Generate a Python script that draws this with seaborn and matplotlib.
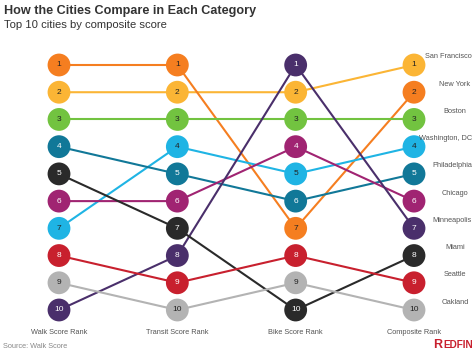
import matplotlib
matplotlib.use("Agg")
import matplotlib.pyplot as plt
import seaborn as sns
import pandas as pd

cities = ["San Francisco", "New York", "Boston", "Washington, DC", "Philadelphia",
          "Chicago", "Minneapolis", "Miami", "Seattle", "Oakland"]
walk_rank = [2, 1, 3, 7, 4, 6, 10, 5, 8, 9]
transit_rank = [2, 1, 3, 4, 5, 6, 8, 7, 9, 10]
bike_rank = [2, 7, 3, 5, 6, 4, 1, 10, 8, 9]
composite_rank = [1, 2, 3, 4, 5, 6, 7, 8, 9, 10]
categories = ["Walk Score Rank", "Transit Score Rank", "Bike Score Rank", "Composite Rank"]

colors = ["#FBB535", "#F57E20", "#72C340", "#1FB4E4", "#117898",
          "#A02472", "#4A2F6B", "#2A2A2A", "#C8202E", "#B3B3B3"]
dark_text = {"#FBB535", "#F57E20", "#72C340", "#1FB4E4", "#B3B3B3"}
palette = dict(zip(cities, colors))

rows = []
for i, c in enumerate(cities):
    for j, ranks in enumerate([walk_rank, transit_rank, bike_rank, composite_rank]):
        rows.append({"city": c, "col": j, "rank": ranks[i]})
df = pd.DataFrame(rows)

sns.set_style("white")
plt.rcParams["font.family"] = ["Liberation Sans", "DejaVu Sans"]

fig = plt.figure(figsize=(4.74, 3.53), dpi=100)
ax = fig.add_axes([0, 0, 1, 1])

sns.lineplot(data=df, x="col", y="rank", hue="city", palette=palette, units="city",
             estimator=None, sort=False, legend=False, linewidth=1.5, ax=ax, zorder=1)
sns.scatterplot(data=df, x="col", y="rank", hue="city", palette=palette, s=270,
                edgecolor="none", legend=False, ax=ax, zorder=2)

for _, r in df.iterrows():
    col = palette[r["city"]]
    tc = "#222222" if col in dark_text else "white"
    ax.text(r["col"], r["rank"], str(int(r["rank"])), ha="center", va="center",
            fontsize=6, color=tc, zorder=3)

ppu_x = (414 - 59) / 3
ppu_y = (310 - 65) / 9
ax.set_xlim(-59 / ppu_x, 3 + (474 - 414) / ppu_x)
ax.set_ylim(10 + (353 - 310) / ppu_y, 1 - 65 / ppu_y)
ax.axis("off")

for j, cat in enumerate(categories):
    ax.text(j, 10 + (333 - 310) / ppu_y, cat, ha="center", va="center",
            fontsize=5.3, color="#555555")

renderer = fig.canvas.get_renderer()
for i, c in enumerate(cities):
    t = fig.text(455 / 474, 1 - (65 + (composite_rank[i] - 1) * ppu_y - 8) / 353, c,
                 ha="center", va="center", fontsize=5.3, color="#555555")
    w = t.get_window_extent(renderer).width
    if 455 + w / 2 > 472:
        t.set_x((472 - w / 2) / 474)

fig.text(4 / 474, 1 - 11 / 353, "How the Cities Compare in Each Category",
         fontsize=9.1, fontweight="bold", color="#333333", va="center", ha="left")
fig.text(4 / 474, 1 - 25 / 353, "Top 10 cities by composite score",
         fontsize=8.1, color="#333333", va="center", ha="left")
fig.text(3 / 474, 1 - 347 / 353, "Source: Walk Score", fontsize=5.3,
         color="#888888", va="center", ha="left")

t2 = fig.text(473 / 474, 1 - 345.5 / 353, "EDFIN", fontsize=7.2, fontweight="bold",
              color="#C8202E", va="center", ha="right")
w2 = t2.get_window_extent(renderer).width
fig.text((473 - w2 - 1.5) / 474, 1 - 345 / 353, "R", fontsize=9, fontweight="bold",
         color="#C8202E", va="center", ha="right")

fig.savefig("out.png", dpi=100)
